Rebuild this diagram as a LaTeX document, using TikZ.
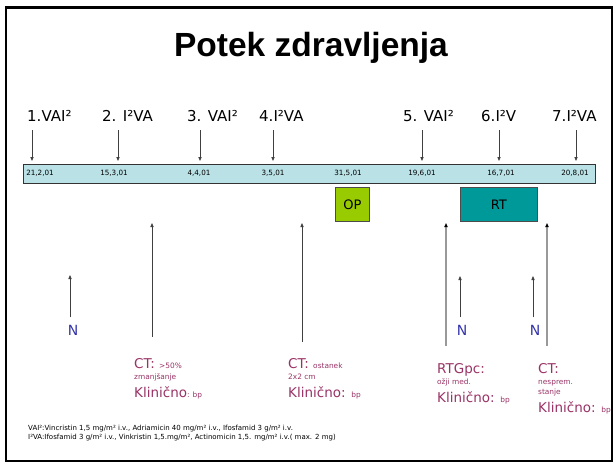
\documentclass[tikz,border=0pt]{standalone}
\usepackage{fontspec}
\setmainfont{DejaVu Sans}
\newfontfamily\titlefont{Liberation Sans}
\usetikzlibrary{arrows.meta}
\definecolor{barfill}{RGB}{185,225,230}
\definecolor{opfill}{RGB}{153,204,0}
\definecolor{rtfill}{RGB}{0,153,153}
\definecolor{mag}{RGB}{153,51,102}
\definecolor{nblue}{RGB}{51,51,170}
\newcommand\smf{\fontsize{7.4}{8}\selectfont}
\begin{document}
\begin{tikzpicture}[x=1pt,y=-1pt,
  lab/.style={font=\fontsize{15}{18}\selectfont, anchor=base west, inner sep=0pt},
  datelab/.style={font=\fontsize{7.2}{8}\selectfont, inner sep=0pt},
  darr/.style={draw=black!75, line width=0.8pt, -{Triangle[length=4pt,width=3.2pt]}},
  uarr/.style={draw=black!75, line width=0.8pt, -{Triangle[length=4pt,width=3.2pt]}},
  garr/.style={draw=black!40, line width=1.5pt, -{Triangle[length=4pt,width=3.2pt,fill=black,color=black]}},
  nlab/.style={font=\fontsize{14}{16}\selectfont, text=nblue, anchor=base, inner sep=0pt},
  big/.style={font=\fontsize{13.5}{15}\selectfont, text=mag, anchor=base west, inner sep=0pt},
  small/.style={font=\smf, text=mag, anchor=base west, inner sep=0pt},
  foot/.style={font=\fontsize{7}{8}\selectfont, anchor=base west, inner sep=0pt},
  boxstyle/.style={draw=black!70, line width=0.8pt, inner sep=0pt, anchor=north west, font=\fontsize{13}{15}\selectfont}
]
\useasboundingbox (0,0) rectangle (616,466);
\fill[white] (0,0) rectangle (616,466);
\draw[line width=2.7pt] (6,7.5) rectangle (612,461);

\node[font=\titlefont\bfseries\fontsize{33.5}{36}\selectfont, anchor=base, inner sep=0pt] (title) at (311,56.7) {Potek zdravljenja};

% cycle labels
\node[lab] (l1) at (27,121) {1.VAI²};
\node[lab] (l2) at (102,121) {2. I²VA};
\node[lab] (l3) at (187,121) {3. VAI²};
\node[lab] (l4) at (259,121) {4.I²VA};
\node[lab] (l5) at (403,121) {5. VAI²};
\node[lab] (l6) at (481,121) {6.I²V};
\node[lab] (l7) at (552,121) {7.I²VA};

% time bar
\node[draw=black!80, line width=0.8pt, fill=barfill, minimum width=572pt, minimum height=19pt, anchor=north west, inner sep=0pt] (bar) at (23,164) {};
\node[datelab] (d1) at (40,173.5) {21,2,01};
\node[datelab] (d2) at (114,173.5) {15,3,01};
\node[datelab] (d3) at (199,173.5) {4,4,01};
\node[datelab] (d4) at (273,173.5) {3,5,01};
\node[datelab] (d5) at (348,173.5) {31,5,01};
\node[datelab] (d6) at (422,173.5) {19,6,01};
\node[datelab] (d7) at (501,173.5) {16,7,01};
\node[datelab] (d8) at (575,173.5) {20,8,01};

% down arrows
\foreach \i/\x in {1/32,2/118,3/200,4/273,5/422,6/499,7/576}{
  \coordinate (a\i) at (\x,130);
  \coordinate (b\i) at (\x,161);
  \draw[darr] (a\i) -- (b\i);
}

% OP and RT boxes
\node[boxstyle, fill=opfill, minimum width=34pt, minimum height=34pt] (op) at (335,187) {OP};
\node[boxstyle, fill=rtfill, minimum width=77pt, minimum height=34pt] (rt) at (460,187) {RT};

% long up arrows
\coordinate (u1b) at (152,337); \coordinate (u1t) at (152,223);
\coordinate (u2b) at (302,342); \coordinate (u2t) at (302,223);
\coordinate (u3b) at (446,346); \coordinate (u3t) at (446,223);
\coordinate (u4b) at (547,346); \coordinate (u4t) at (547,223);
\draw[uarr] (u1b) -- (u1t);
\draw[uarr] (u2b) -- (u2t);
\draw[garr] (u3b) -- (u3t);
\draw[garr] (u4b) -- (u4t);

% N markers with short arrows
\node[nlab] (n1) at (73,335) {N};
\node[nlab] (n2) at (462,335) {N};
\node[nlab] (n3) at (535,335) {N};
\coordinate (s1b) at (70,317); \coordinate (s1t) at (70,275);
\coordinate (s2b) at (460,317); \coordinate (s2t) at (460,276);
\coordinate (s3b) at (533,317); \coordinate (s3t) at (533,276);
\draw[uarr] (s1b) -- (s1t);
\draw[uarr] (s2b) -- (s2t);
\draw[uarr] (s3b) -- (s3t);

% findings
\node[big] (c1a) at (134,368) {CT: {\smf >50\%}};
\node[small] (c1b) at (134,379) {zmanjšanje};
\node[big] (c1c) at (134,397) {Klinično{\smf: bp}};

\node[big] (c2a) at (288,368) {CT: {\smf ostanek}};
\node[small] (c2b) at (288,379) {2x2 cm};
\node[big] (c2c) at (288,397) {Klinično: {\smf bp}};

\node[big] (c3a) at (437,373) {RTGpc:};
\node[small] (c3b) at (437,384) {ožji med.};
\node[big] (c3c) at (437,402) {Klinično: {\smf bp}};

\node[big] (c4a) at (538,373) {CT:};
\node[small] (c4b) at (538,384) {nesprem.};
\node[small] (c4c) at (538,394) {stanje};
\node[big] (c4d) at (538,412) {Klinično: {\smf bp}};

% footnote
\node[foot] (f1) at (28,430.5) {VAI²:Vincristin 1,5 mg/m² i.v., Adriamicin 40 mg/m² i.v., Ifosfamid 3 g/m² i.v.};
\node[foot] (f2) at (28,439.5) {I²VA:Ifosfamid 3 g/m² i.v., Vinkristin 1,5.mg/m², Actinomicin 1,5. mg/m² i.v.( max. 2 mg)};
\end{tikzpicture}
\end{document}
